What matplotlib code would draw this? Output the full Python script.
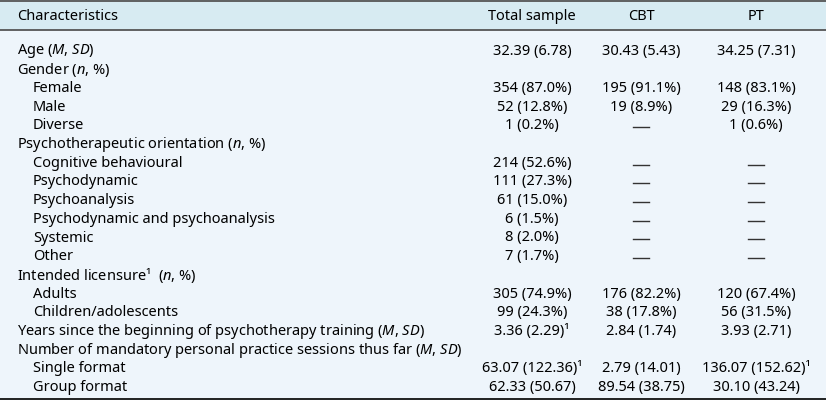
import matplotlib
matplotlib.use("Agg")
import matplotlib.pyplot as plt
from matplotlib.patches import Rectangle

FONT = "Noto Sans"
plt.rcParams["font.family"] = [FONT, "DejaVu Sans"]
plt.rcParams["mathtext.fontset"] = "custom"
plt.rcParams["mathtext.rm"] = FONT
plt.rcParams["mathtext.it"] = FONT + ":italic"

# ---------------------------------------------------------------------------
# Table content
# ---------------------------------------------------------------------------
headers = ["Characteristics", "Total sample", "CBT", "PT"]

labels = [
    "Age ($M$, $SD$)",
    "Gender ($n$, %)",
    "Female",
    "Male",
    "Diverse",
    "Psychotherapeutic orientation ($n$, %)",
    "Cognitive behavioural",
    "Psychodynamic",
    "Psychoanalysis",
    "Psychodynamic and psychoanalysis",
    "Systemic",
    "Other",
    "Intended licensure¹  ($n$, %)",
    "Adults",
    "Children/adolescents",
    "Years since the beginning of psychotherapy training ($M$, $SD$)",
    "Number of mandatory personal practice sessions thus far ($M$, $SD$)",
    "Single format",
    "Group format",
]
indented = [False, False, True, True, True, False, True, True, True, True,
            True, True, False, True, True, False, False, True, True]

DASH = "\u2014"
total = ["32.39 (6.78)", "", "354 (87.0%)", "52 (12.8%)", "1 (0.2%)", "",
         "214 (52.6%)", "111 (27.3%)", "61 (15.0%)", "6 (1.5%)", "8 (2.0%)",
         "7 (1.7%)", "", "305 (74.9%)", "99 (24.3%)", "3.36 (2.29)¹", "",
         "63.07 (122.36)¹", "62.33 (50.67)"]
cbt = ["30.43 (5.43)", "", "195 (91.1%)", "19 (8.9%)", DASH, "",
       DASH, DASH, DASH, DASH, DASH, DASH, "", "176 (82.2%)", "38 (17.8%)",
       "2.84 (1.74)", "", "2.79 (14.01)", "89.54 (38.75)"]
pt = ["34.25 (7.31)", "", "148 (83.1%)", "29 (16.3%)", "1 (0.6%)", "",
      DASH, DASH, DASH, DASH, DASH, DASH, "", "120 (67.4%)", "56 (31.5%)",
      "3.93 (2.71)", "", "136.07 (152.62)¹", "30.10 (43.24)"]

# ---------------------------------------------------------------------------
# Layout (pixel coordinates)
# ---------------------------------------------------------------------------
W, H = 826, 400
HEADER_BG = "#d7ebf2"
BODY_BG = "#eef5fb"
col_x = [17, 532, 641, 756]
first_row_y, row_h = 51, 18.7
fs = 10.5

fig = plt.figure(figsize=(W / 100, H / 100), dpi=100)
ax = fig.add_axes([0, 0, 1, 1])
ax.set_xlim(0, W)
ax.set_ylim(H, 0)
ax.axis("off")

ax.add_patch(Rectangle((0, 0), W, 30, color=HEADER_BG, lw=0))
ax.add_patch(Rectangle((0, 30), W, H - 30, color=BODY_BG, lw=0))
ax.axhline(0.8, color="#555555", lw=1.3)
ax.axhline(29.6, color="#555555", lw=1.3)
ax.axhline(398.5, color="#111111", lw=1.3)

ax.text(col_x[0], 16, headers[0], fontsize=fs, ha="left", va="center")
for x, h in zip(col_x[1:], headers[1:]):
    ax.text(x, 16, h, fontsize=fs, ha="center", va="center")

for i, lab in enumerate(labels):
    y = first_row_y + i * row_h
    x0 = col_x[0] + (16 if indented[i] else 0)
    ax.text(x0, y, lab, fontsize=fs, ha="left", va="center")
    for x, col in zip(col_x[1:], (total, cbt, pt)):
        val = col[i]
        if val == DASH:
            ax.plot([x - 8, x + 8], [y + 1.3, y + 1.3], color="#333333", lw=1.0)
        elif val:
            ax.text(x, y, val, fontsize=fs, ha="center", va="center")

fig.savefig("out.png", dpi=100)
